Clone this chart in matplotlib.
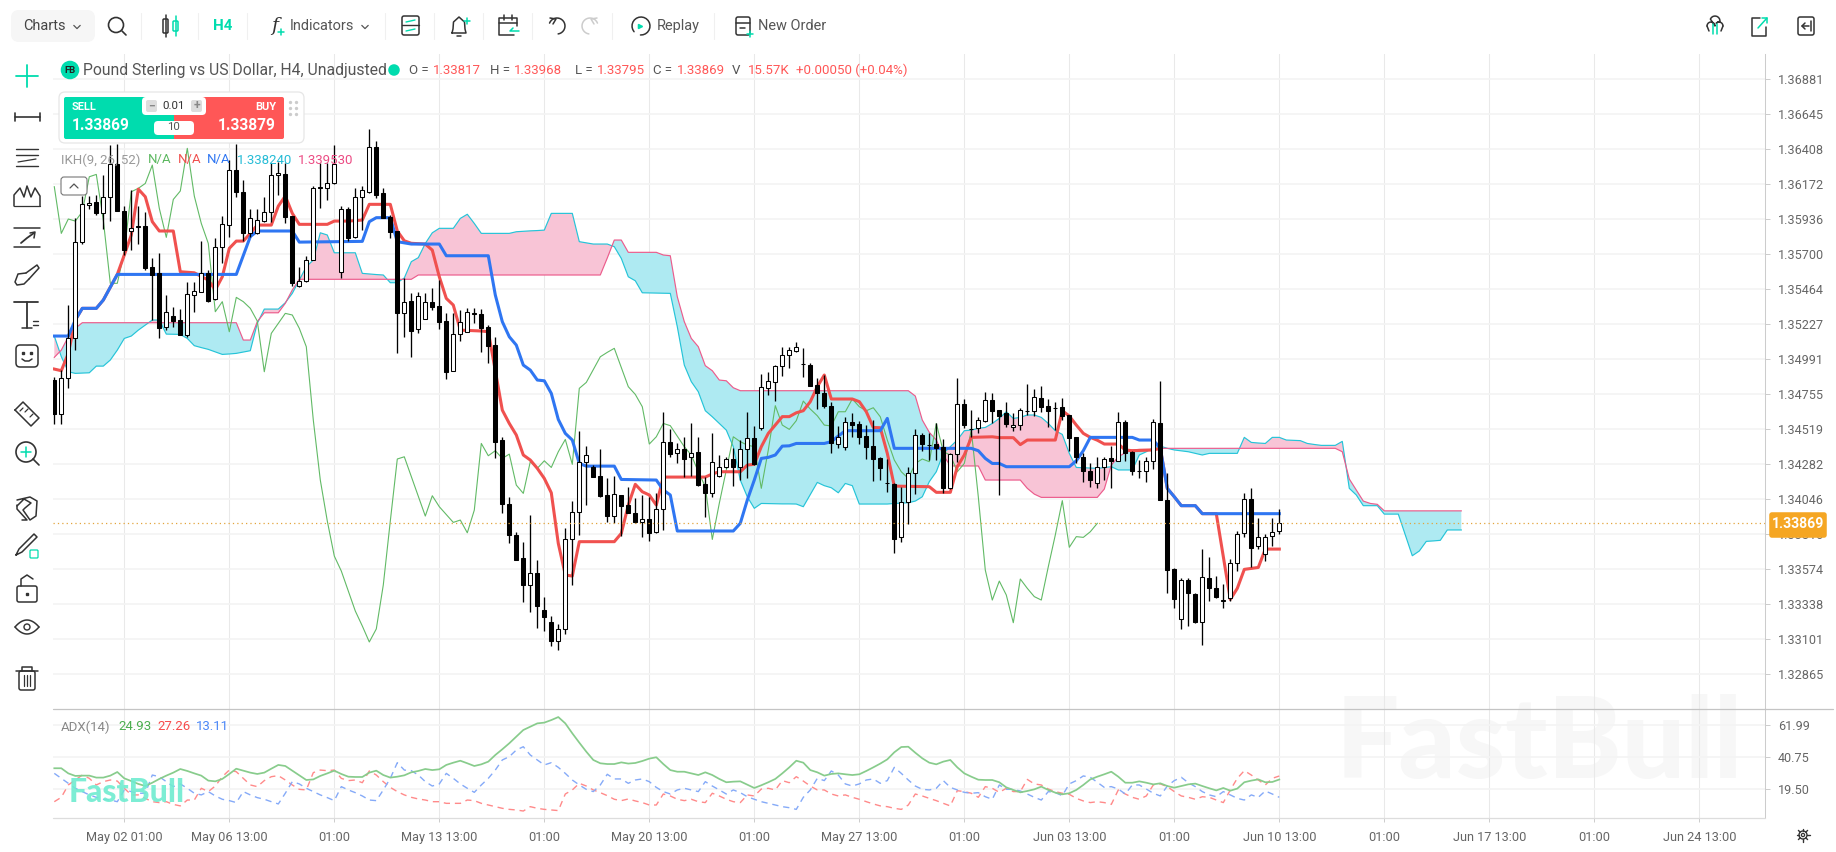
import numpy as np
from matplotlib import pyplot as plt
from matplotlib.patches import Circle, FancyBboxPatch, Rectangle

plt.rcParams['font.family'] = ['Roboto', 'DejaVu Sans']

# quotes are kept in points (1e-5)
opens = [134836,134604,134847,135117,135770,136020,136035,135965,136073,136292,
    135977,135844,135871,135875,135599,135556,135191,135268,135241,135140,
    135412,135432,135556,135380,135736,135882,136253,136105,135826,135830,
    135911,135968,136217,136224,135943,135473,135502,135646,136133,136130,
    136163,135567,135988,135799,136069,136107,136409,136096,135934,135842,
    135290,135369,135178,135250,135360,135335,135234,134899,135144,135158,
    135284,135279,135191,135072,134431,133999,133790,133634,133454,133531,
    133284,133203,133076,133153,133761,133947,134285,134251,134188,134060,
    133920,134060,133992,133936,133880,133898,133812,133963,134420,134341,
    134368,134314,134348,134132,134075,134188,134246,134300,134251,134368,
    134442,134510,134780,134825,134933,135002,135034,134943,134937,134802,
    134746,134661,134402,134386,134552,134537,134458,134390,134307,134139,
    134134,133774,134010,134210,134465,134400,134404,134381,134109,134334,
    134672,134508,134510,134561,134699,134631,134611,134517,134534,134630,
    134629,134712,134660,134650,134651,134597,134449,134314,134222,134138,
    134246,134307,134291,134550,134350,134225,134224,134287,134543,134026,
    133558,133220,133486,133391,133205,133497,133430,133342,133362,133598,
    133801,134030,133713,133659,133781,133817]
closes = [134604,134847,135117,135770,136022,136033,135965,136073,136292,135979,
    135713,135860,135873,135592,135545,135189,135297,135236,135140,135414,
    135435,135556,135369,135736,135887,136253,136107,135830,135927,135916,
    135968,136220,136231,135938,135493,135502,135646,136130,136137,136163,
    136294,135988,135792,136069,136116,136406,136085,135932,135837,135290,
    135365,135169,135401,135360,135331,135230,134892,135144,135225,135293,
    135288,135189,135065,134420,133999,133792,133621,133454,133531,133310,
    133239,133076,133153,133761,133943,134280,134327,134183,134053,133920,
    134064,133988,133936,133880,133896,133805,133963,134415,134334,134368,
    134305,134341,134127,134075,134280,134246,134300,134251,134368,134442,
    134267,134787,134827,134930,135005,135036,135056,134942,134798,134746,
    134663,134408,134453,134550,134535,134453,134386,134305,134240,134138,
    133765,134010,134206,134462,134404,134399,134377,134109,134334,134672,
    134532,134506,134564,134699,134629,134593,134539,134530,134631,134629,
    134719,134654,134629,134649,134595,134447,134314,134224,134161,134246,
    134300,134291,134550,134345,134224,134223,134287,134550,134028,133556,
    133360,133484,133396,133205,133504,133430,133374,133353,133598,133794,
    134030,133704,133778,133778,133812,133869]
highs = [134859,134903,135342,135932,136078,136078,136085,136220,136422,136430,
    136010,136118,136010,135972,135657,135691,135410,135331,135313,135500,
    135500,135776,135578,135792,135945,136321,136429,136186,135988,135988,
    136073,136298,136310,136298,135943,135601,135673,136148,136298,136298,
    136422,136010,136001,136134,136148,136528,136449,136130,135950,135842,
    135527,135421,135432,135421,135455,135511,135286,135286,135308,135320,
    135320,135315,135207,135124,134453,134044,133812,133745,133925,133621,
    133374,133245,133187,133835,134022,134492,134390,134262,134368,134172,
    134188,134060,134116,134037,134060,134048,134071,134622,134503,134413,
    134449,134543,134453,134184,134481,134330,134314,134379,134431,134622,
    134528,134874,134892,134937,135061,135061,135090,135050,134948,134847,
    134870,134690,134528,134584,134611,134559,134532,134566,134318,134300,
    134139,134116,134247,134503,134476,134480,134543,134440,134341,134847,
    134705,134633,134588,134753,134746,134631,134690,134611,134645,134807,
    134773,134798,134708,134690,134712,134597,134449,134341,134278,134314,
    134314,134390,134618,134566,134359,134296,134314,134573,134827,134210,
    133565,133497,133497,133396,133693,133644,133515,133457,133625,133819,
    134071,134105,133902,133796,133902,133968]
lows = [134539,134537,134784,135039,135754,135988,135950,135857,135911,135979,
    135680,135713,135754,135578,135241,135117,135173,135196,135140,135128,
    135297,135432,135365,135376,135624,135804,136069,135776,135799,135821,
    135905,135905,136085,135898,135473,135466,135495,135646,135995,136051,
    136159,135522,135776,135792,135848,136096,136062,135927,135792,135016,
    135128,134993,135151,135250,135308,135178,134840,134899,135101,135158,
    135218,135027,134948,134312,133940,133738,133621,133340,133272,133160,
    133144,133040,133013,133122,133454,133790,133992,134183,134048,133880,
    133873,133783,133936,133873,133779,133749,133801,133823,134318,134278,
    134183,134188,134120,133913,134048,134183,134240,134123,134161,134172,
    134262,134498,134735,134696,134863,134915,135027,134858,134795,134640,
    134645,134341,134379,134364,134453,134404,134300,134156,134161,134082,
    133670,133745,133862,134066,134357,134296,134296,134075,134098,134285,
    134510,134453,134480,134550,134543,134060,134516,134494,134498,134600,
    134593,134622,134521,134498,134566,134359,134273,134150,134111,134109,
    134161,134109,134291,134291,134195,134172,134150,134233,134028,133401,
    133295,133155,133176,133193,133050,133346,133362,133299,133346,133549,
    133778,133576,133695,133616,133715,133795]

# ichimoku lines as (bar, points) vertices
tenkan = [(0,134910),(1,134899),(2,135016),(3,135241),(4,135320),(6,135320),(7,135376),(9,135549),
    (10,135680),(11,135815),(12,136125),(13,136073),(14,135905),(15,135842),(17,135842),(18,135567),
    (20,135560),(22,135511),(23,135444),(24,135533),(25,135725),(26,135774),(27,135774),(28,135826),
    (29,135882),(31,135882),(32,136010),(33,136078),(34,135961),(35,135887),(39,135887),(40,135909),
    (42,135909),(44,135916),(45,136022),(48,136022),(49,135842),(50,135776),(51,135759),(53,135754),
    (54,135713),(55,135533),(56,135387),(57,135342),(58,135173),(61,135167),(62,135162),(63,134900),
    (64,134633),(65,134543),(66,134465),(67,134330),(68,134296),(69,134240),(70,134172),(71,134075),
    (72,133733),(73,133520),(74,133513),(75,133745),(80,133745),(81,133801),(82,133992),(83,134132),
    (84,134082),(85,134060),(86,133992),(87,134181),(93,134181),(94,134202),(95,134217),(98,134217),
    (99,134262),(100,134267),(101,134386),(102,134476),(103,134532),(104,134589),(105,134589),(106,134615),
    (107,134629),(108,134690),(109,134791),(110,134870),(111,134708),(114,134708),(115,134690),(116,134622),
    (117,134516),(118,134514),(119,134341),(120,134120),(125,134116),(126,134078),(128,134078),(129,134251),
    (130,134330),(131,134449),(134,134453),(135,134447),(137,134447),(138,134400),(139,134431),(143,134431),
    (144,134629),(145,134593),(146,134532),(147,134476),(148,134449),(149,134430),(150,134404),(152,134404),
    (153,134364),(154,134359),(157,134364),(158,134375),(159,134105),(160,134048),(161,133988),(163,133988),
    (164,133934),(166,133934),(167,133644),(168,133355),(169,133430),(170,133558),(172,133571),(173,133695),
    (175,133695)]
kijun = [(0,135133),(2,135133),(3,135241),(4,135320),(6,135320),(7,135376),(9,135549),(26,135549),
    (28,135804),(29,135842),(34,135842),(35,135767),(44,135772),(45,135905),(46,135932),(48,135932),
    (49,135770),(51,135754),(55,135754),(56,135675),(62,135675),(63,135410),(64,135230),(65,135128),
    (66,135072),(67,134937),(68,134903),(69,134836),(70,134831),(71,134746),(72,134570),(73,134476),
    (74,134431),(75,134273),(76,134255),(80,134255),(81,134165),(86,134161),(87,134094),(88,134060),
    (89,133817),(97,133817),(98,133869),(99,134026),(100,134161),(101,134307),(102,134314),(103,134330),
    (104,134390),(105,134392),(106,134408),(110,134408),(111,134420),(112,134458),(113,134494),(118,134494),
    (119,134577),(120,134375),(131,134375),(132,134359),(133,134307),(134,134273),(135,134273),(136,134251),
    (145,134251),(146,134291),(147,134359),(148,134449),(154,134449),(155,134431),(157,134431),(158,134375),
    (159,134105),(160,134048),(161,133988),(163,133988),(164,133934),(175,133934)]
chikou = [(0,136141),(1,135826),(2,135923),(3,135909),(4,135972),(5,136208),(6,136224),(7,135916),
    (8,135489),(9,135489),(10,135702),(11,136107),(12,136130),(13,136163),(14,136287),(15,135995),
    (16,135799),(17,136055),(18,136112),(19,136400),(20,136078),(21,135893),(22,135758),(23,135297),
    (24,135365),(25,135162),(26,135394),(27,135365),(28,135320),(29,135234),(30,134892),(31,135151),
    (33,135286),(34,135275),(35,135185),(36,135061),(37,134566),(38,134161),(39,133884),(40,133648),
    (41,133547),(42,133412),(43,133277),(44,133176),(45,133068),(46,133156),(47,133453),(48,133884),
    (49,134303),(50,134318),(53,133918),(54,134055),(55,133981),(57,133875),(58,133891),(59,133805),
    (60,133958),(61,134408),(62,134325),(63,134359),(64,134307),(65,134336),(66,134127),(67,134071),
    (68,134285),(69,134240),(70,134291),(71,134246),(72,134352),(73,134435),(74,134267),(75,134780),
    (76,134820),(78,134993),(79,135023),(80,135050),(82,134791),(83,134739),(84,134656),(85,134404),
    (86,134453),(87,134543),(88,134528),(90,134386),(91,134330),(92,134217),(93,134116),(94,133760),
    (95,134004),(97,134453),(98,134420),(99,134397),(100,134386),(101,134105),(102,134364),(103,134663),
    (104,134532),(105,134503),(106,134562),(107,134694),(108,134640),(109,134595),(110,134532),(111,134526),
    (112,134622),(113,134622),(114,134708),(115,134656),(116,134629),(117,134649),(118,134588),(119,134431),
    (120,134296),(121,134217),(122,134172),(123,134273),(124,134303),(125,134285),(126,134543),(127,134352),
    (128,134330),(129,134217),(130,134273),(131,134498),(132,134048),(133,133553),(134,133351),(135,133479),
    (136,133385),(137,133198),(138,133493),(139,133430),(140,133374),(141,133351),(142,133576),(143,133790),
    (144,134022),(145,133707),(146,133779),(147,133774),(148,133812),(149,133869)]

# cloud spans, one value per bar, running 26 bars past the last candle
span_a = [135133,134994,134892,134881,134883,134885,134930,134930,134971,135038,
    135117,135133,135173,135207,135241,135241,135146,135145,135144,135117,
    135068,135055,135043,135026,135009,135012,135016,135025,135034,135219,
    135315,135315,135315,135358,135421,135511,135601,135646,135830,135815,
    135695,135695,135695,135695,135556,135552,135548,135545,135493,135493,
    135525,135635,135662,135758,135830,135860,135860,135860,135927,135955,
    135893,135826,135826,135826,135826,135826,135837,135840,135843,135845,
    135848,135961,135961,135961,135961,135770,135762,135754,135754,135754,
    135736,135657,135533,135506,135425,135424,135423,135422,135421,135196,
    134937,134825,134757,134629,134588,134543,134498,134386,134161,134048,
    133970,134003,134002,134001,134000,134000,133999,133981,134063,134145,
    134123,134109,134075,134138,134123,133999,133999,133999,133999,133999,
    134003,134005,134008,134019,134048,134150,134217,134341,134386,134431,
    134494,134498,134510,134516,134543,134577,134622,134577,134584,134600,
    134600,134584,134543,134494,134469,134341,134246,134244,134242,134240,
    134245,134251,134229,134229,134229,134330,134352,134379,134390,134375,
    134364,134358,134352,134341,134330,134341,134341,134341,134341,134341,
    134449,134415,134411,134408,134449,134449,134431,134429,134427,134408,
    134401,134395,134395,134395,134422,134105,134060,133988,133988,133988,
    133931,133931,133931,133790,133650,133682,133747,133750,133754,133824,
    133824,133824]
span_b = ([134989,135038,135128,135185] + [135223]*23 + [135106,135106,135230,135290,135290,135290,135354,135444]
    + [135516]*17 + [135545]*27 + [135660,135781,135781] + [135698]*5
    + [135680,135675,135398,135230,135117,135061,134933,134899,134836,134831,134784]
    + [134764]*25 + [134728,134566,134483,134431,134330] + [134256]*5 + [134161]*6 + [134105,134066]
    + [134044]*9 + [134100,134262,134318,134345,134364] + [134368]*3 + [134375]*26
    + [134352,134168,134093,134019,134003,133997] + [133953]*12)

# ADX(14) pane
adx = [32.4,32.4,29.0,27.3,27.5,27.5,26.2,26.2,27.5,29.9,
    25.7,23.9,22.0,20.6,22.8,25.3,27.5,29.5,31.9,30.6,
    29.0,27.5,24.2,23.7,25.3,28.6,32.1,30.8,29.5,28.6,
    29.5,32.1,34.6,33.9,30.8,27.7,24.6,25.0,27.3,29.0,
    30.8,28.6,26.8,26.6,26.6,29.5,30.8,27.9,26.2,26.8,
    27.7,29.7,30.6,31.9,31.2,31.7,34.6,36.1,37.4,35.7,
    33.9,35.0,36.8,41.2,45.0,49.0,53.4,57.8,60.0,62.2,
    62.7,64.4,66.4,62.2,55.6,49.4,43.4,37.9,35.7,35.2,
    35.2,36.3,35.5,35.9,37.2,38.8,39.7,35.2,31.2,30.1,
    30.1,29.0,27.9,29.7,27.9,25.3,23.1,23.5,23.7,21.5,
    19.3,21.1,23.1,25.3,29.0,33.0,37.4,36.1,31.2,29.7,
    27.5,28.6,29.0,28.4,27.9,28.4,30.6,33.0,35.5,38.3,
    43.0,46.5,46.7,42.7,39.0,36.1,35.0,36.8,37.9,33.0,
    29.0,26.8,24.8,24.6,24.6,23.1,19.7,18.0,16.4,17.3,
    18.4,20.2,18.0,16.2,15.1,15.8,18.0,21.3,25.0,26.8,
    28.4,30.1,26.8,22.8,22.8,23.7,22.8,21.7,22.4,20.6,
    19.5,20.6,21.7,22.2,20.6,19.1,17.7,19.3,17.5,18.9,
    23.1,24.2,25.0,23.1,23.3,24.93]
di_red = [10.2,13.1,21.3,24.6,27.9,25.7,21.3,23.5,24.6,23.9,
    19.1,14.7,14.7,12.4,10.2,9.6,10.2,8.4,7.4,11.3,
    11.3,19.1,16.9,20.6,26.8,31.2,30.1,25.7,21.3,20.2,
    24.2,26.8,27.5,24.6,21.3,18.4,18.0,29.5,31.2,30.8,
    31.2,25.7,24.2,24.6,22.8,30.6,27.9,23.5,19.7,16.9,
    14.7,13.1,12.0,11.3,10.2,10.2,9.1,9.1,9.1,11.3,
    10.9,9.1,8.0,6.9,5.8,5.1,4.7,4.0,6.9,5.8,
    5.1,4.7,4.3,15.3,18.0,22.4,20.6,18.0,16.2,14.2,
    11.8,10.9,12.0,10.7,9.6,8.0,8.0,15.3,14.0,11.8,
    10.9,11.8,10.2,9.6,15.8,14.0,11.8,10.2,9.6,14.7,
    14.0,18.6,19.1,18.0,24.2,22.8,26.8,23.9,20.6,18.0,
    18.0,15.3,14.0,14.7,13.1,11.8,10.2,8.7,7.4,6.9,
    5.8,5.1,8.0,15.3,14.0,12.4,10.9,9.1,7.4,17.5,
    16.9,15.8,13.1,20.2,19.1,16.4,19.1,16.9,16.9,25.0,
    22.0,21.3,18.6,16.9,15.8,15.1,12.4,10.7,9.6,10.2,
    9.6,8.4,18.0,15.3,13.1,11.8,14.0,21.3,22.0,20.2,
    16.9,14.0,13.1,11.8,13.5,13.1,11.3,9.6,18.0,25.7,
    30.8,27.9,24.6,21.3,25.7,27.26]
di_blue = [29.0,25.7,22.4,19.1,16.9,14.7,13.1,11.8,11.3,10.2,
    18.0,16.9,15.8,15.8,27.9,26.8,23.5,20.2,22.0,19.1,
    15.8,14.7,16.9,14.0,11.8,10.9,9.6,16.9,14.7,12.9,
    11.8,10.2,8.7,15.8,23.5,22.0,19.1,16.9,14.7,12.9,
    10.9,20.2,18.0,16.2,14.0,11.3,10.9,18.0,25.7,36.1,
    31.2,30.8,27.9,23.5,20.6,22.0,29.0,25.7,22.0,19.1,
    16.4,21.3,25.7,31.2,37.9,40.1,44.5,46.7,41.2,37.9,
    34.6,36.1,33.0,29.0,24.6,21.3,18.4,16.9,21.3,28.4,
    25.3,25.3,22.4,24.6,25.3,23.5,19.7,16.9,15.3,18.0,
    19.1,18.0,16.9,23.5,20.6,18.0,15.3,18.0,16.2,13.5,
    11.8,10.2,9.1,8.0,6.9,6.2,5.1,13.1,18.0,25.7,
    24.2,30.6,27.9,22.0,20.6,22.0,24.6,25.3,22.4,24.2,
    33.0,29.0,24.6,20.6,18.4,18.0,19.1,24.2,19.7,18.0,
    16.4,15.8,16.2,13.5,11.8,21.3,18.4,18.4,17.3,15.3,
    13.1,11.3,16.9,16.2,14.2,22.0,24.2,27.3,26.4,23.1,
    19.7,20.2,18.6,15.3,21.3,21.3,18.6,15.8,14.0,20.6,
    24.2,26.4,22.8,20.2,16.9,14.7,13.5,16.9,14.7,12.4,
    11.3,14.7,13.1,17.3,15.3,13.11]

price_labels = ['1.36881','1.36645','1.36408','1.36172','1.35936','1.35700','1.35464','1.35227','1.34991',
    '1.34755','1.34519','1.34282','1.34046','1.33810','1.33574','1.33338','1.33101','1.32865']
adx_labels = ['61.99','40.75','19.50']
date_bars = list(range(10, 236, 15))
date_labels = ['May 02 01:00','May 06 13:00','01:00','May 13 13:00','01:00','May 20 13:00','01:00','May 27 13:00',
    '01:00','Jun 03 13:00','01:00','Jun 10 13:00','01:00','Jun 17 13:00','01:00','Jun 24 13:00']

W, H = 1836, 852
RED, GREEN_UI, GREY = '#ff5757', '#00dcae', '#555555'
BAR_STEP = 7.0          # pixels per bar
FIRST_BAR_X = 54.3
PLOT_L, PLOT_R = 53, 1765
MAIN_T, MAIN_B, ADX_B = 54, 709, 818
PX_POINTS = 6.75        # points per pixel in the price pane
GRID_SHIFT = 13         # the price grid sits a touch under its quoted level
ADX_GRID_SHIFT = 0.6


def px_axes(l, t, r, b, **kw):
    return fig.add_axes([l / W, 1 - b / H, (r - l) / W, (b - t) / H], **kw)


def pts(values):
    return np.array(values, dtype=float) / 1e5


def fs(px):
    return px * 0.72


fig = plt.figure(figsize=(W / 100, H / 100), dpi=100, facecolor='white')

# big pale watermark behind both panes
fig.text(1336 / W, 1 - 778 / H, 'FastBull', fontsize=fs(112), family='Lato', weight='black',
         color='#f7f7f7', zorder=-5, va='baseline', ha='left')

ax = px_axes(PLOT_L, MAIN_T, PLOT_R, MAIN_B)
ax2 = px_axes(PLOT_L, MAIN_B, PLOT_R, ADX_B)
xlim = ((PLOT_L - FIRST_BAR_X) / BAR_STEP, (PLOT_R - FIRST_BAR_X) / BAR_STEP)
last_close = closes[-1]

for a in (ax, ax2):
    a.patch.set_alpha(0)
    a.set_xlim(xlim)
    a.yaxis.tick_right()
    a.set_axisbelow(True)
    a.set_xticks(date_bars)
    a.grid(axis='x', color='#e9e9e9', lw=0.75)
    a.grid(axis='y', color='#f4f4f4', lw=1.3)
    a.tick_params(axis='y', length=3.6, width=0.7, color='#cccccc', labelcolor='#666666',
                  labelsize=fs(12.6), pad=5.5)
    a.tick_params(axis='x', length=3, width=0.7, color='#cccccc', labelcolor='#666666',
                  labelsize=fs(12.8), pad=6.5)
    for side in ('top', 'left', 'bottom'):
        a.spines[side].set_visible(False)
    a.spines['right'].set_color('#cccccc')
    a.spines['right'].set_linewidth(0.75)
ax.tick_params(axis='x', length=0, labelbottom=False)

ax.set_ylim((last_close + (523.3 - MAIN_B) * PX_POINTS) / 1e5, (last_close + (523.3 - MAIN_T) * PX_POINTS) / 1e5)
ax.set_yticks([float(p) - GRID_SHIFT / 1e5 for p in price_labels])
ax.set_yticklabels(price_labels)

# cloud
cloud_x = np.arange(len(span_a))
a_line, b_line = pts(span_a), pts(span_b)
ax.fill_between(cloud_x, a_line, b_line, where=a_line >= b_line, interpolate=True,
                color='#f8c4d6', lw=0, zorder=2)
ax.fill_between(cloud_x, a_line, b_line, where=a_line < b_line, interpolate=True,
                color='#aeeaf2', lw=0, zorder=2)
ax.plot(cloud_x, a_line, color='#25c4d8', lw=0.85, zorder=3)
ax.plot(cloud_x, b_line, color='#ec5c8c', lw=0.85, zorder=3)

for line, colour, width in ((chikou, '#62ba66', 0.8), (tenkan, '#f0514f', 2.2), (kijun, '#2f76f2', 2.2)):
    bars, vals = zip(*line)
    ax.plot(bars, pts(vals), color=colour, lw=width, solid_joinstyle='round', zorder=4)

# candles, hollow when the close is above the open
bar_x = np.arange(len(closes))
o, c, hi, lo = pts(opens), pts(closes), pts(highs), pts(lows)
ax.vlines(bar_x, lo, hi, color='black', lw=0.95, zorder=5)
ax.bar(bar_x, np.abs(c - o), bottom=np.minimum(o, c), width=4.3 / BAR_STEP,
       color=['white' if u else 'black' for u in c >= o], edgecolor='black', lw=0.75, zorder=6)

ax.axhline(last_close / 1e5, color='#e3a43c', lw=0.9, ls=(0, (1, 2.5)), zorder=7)

# ADX pane
ax2.set_ylim(71.08 - 0.664 * (ADX_B - 710), 71.08 - 0.664 * (MAIN_B - 710))
ax2.set_yticks([float(v) - ADX_GRID_SHIFT for v in adx_labels])
ax2.set_yticklabels(adx_labels)
ax2.set_xticklabels(date_labels)
x_adx = np.arange(len(adx))
ax2.plot(x_adx, adx, color='#88cc8c', lw=1.25, zorder=4)
ax2.plot(x_adx, di_red, color='#ff8a8a', lw=1.0, ls=(0, (4.5, 3.5)), zorder=3)
ax2.plot(x_adx, di_blue, color='#85aaf8', lw=1.0, ls=(0, (4.5, 3.5)), zorder=3)

# everything around the panes is laid out in plain pixels
ui = fig.add_axes([0, 0, 1, 1], zorder=10)
ui.set_xlim(0, W)
ui.set_ylim(H, 0)
ui.axis('off')
ui.patch.set_alpha(0)


def txt(x, y, s, color=GREY, px=14, ha='left', weight='normal', **kw):
    ui.text(x, y, s, color=color, fontsize=fs(px), ha=ha, va='center', weight=weight, **kw)


def stroke(xs, ys, color='#333333', lw=1.1):
    ui.plot(xs, ys, color=color, lw=lw, solid_capstyle='round', solid_joinstyle='round')


def box(x0, y0, x1, y1, fc='none', ec='#333333', r=2, lw=1.1, z=2):
    ui.add_patch(FancyBboxPatch((x0 + r, y0 + r), x1 - x0 - 2 * r, y1 - y0 - 2 * r,
                                boxstyle=f'round,pad={r}', fc=fc, ec=ec, lw=lw, zorder=z))


def circle(x, y, r, fc='none', ec='#333333', lw=1.1, z=2):
    ui.add_patch(Circle((x, y), r, fc=fc, ec=ec, lw=lw, zorder=z))


def chevron(x, y, color='#555555', size=3.5, up=False):
    d = -size if up else size
    stroke([x - size, x, x + size], [y - d / 2, y + d / 2, y - d / 2], color, 0.9)


# pane frame
stroke([PLOT_L, 1833], [MAIN_B, MAIN_B], '#c4c4c4', 0.9)
stroke([PLOT_L, PLOT_R], [ADX_B, ADX_B], '#dddddd', 0.9)

# small logo over the ADX pane
ui.text(69, 802, 'FastBull', color='#6fecd0', fontsize=fs(32), family='Lato', weight='black', alpha=0.9, va='baseline')

# price tag
box(1770, 513, 1826, 537, fc='#f5a623', ec='#f5a623', r=2, z=4)
ui.text(1798, 524, f'{last_close / 1e5:.5f}', color='white', fontsize=fs(14), weight='bold',
        ha='center', va='center', zorder=5)

# header
circle(70, 70, 8.5, fc='#00dcae', ec='#00dcae')
ui.text(70, 70.5, 'FB', color='#222222', fontsize=fs(9.5), weight='bold', ha='center', va='center', zorder=4)
txt(83, 70, 'Pound Sterling vs US Dollar, H4, Unadjusted', '#555555', 15.7)
circle(394, 70, 5, fc='#00dcae', ec='#00dcae')
for x, s, col in ((409, 'O =', GREY), (433, '1.33817', RED), (490, 'H =', GREY), (514, '1.33968', RED),
                  (575, 'L =', GREY), (597, '1.33795', RED), (653, 'C =', GREY), (677, '1.33869', RED),
                  (732, 'V', GREY), (748, '15.57K', RED), (796, '+0.00050 (+0.04%)', RED)):
    txt(x, 70, s, col, 13.2)

txt(61, 160, 'IKH(9, 26, 52)', '#999999', 13.3)
for x, s, col in ((148, 'N/A', '#5cb860'), (178, 'N/A', '#f0514f'), (207, 'N/A', '#2f76f2'),
                  (237, '1.338240', '#25bcd6'), (298, '1.339530', '#ec4c84')):
    txt(x, 160, s, col, 13.3)
txt(61, 727, 'ADX(14)', '#888888', 13.3)
for x, s, col in ((118, '24.93', '#4cae50'), (157, '27.26', '#f74c4c'), (196, '13.11', '#4a86f7')):
    txt(x, 727, s, col, 13.3)

# collapse button
box(61, 177, 87, 195, fc='white', ec='#777777', r=3, lw=0.8)
chevron(74, 186, '#555555', 4, up=True)

# order widget
box(59, 92, 304, 143, fc='white', ec='#e6e6e6', r=6, lw=0.9, z=3)
ui.add_patch(FancyBboxPatch((66, 99), 106, 38, boxstyle='round,pad=2', fc=GREEN_UI, ec='none', zorder=4))
ui.add_patch(FancyBboxPatch((176, 99), 106, 38, boxstyle='round,pad=2', fc=RED, ec='none', zorder=4))
ui.add_patch(Rectangle((150, 97), 25, 42, fc=GREEN_UI, ec='none', zorder=4))
ui.add_patch(Rectangle((174, 97), 25, 42, fc=RED, ec='none', zorder=4))
box(142, 97, 206, 115, fc='white', ec='none', r=4, z=5)
box(154, 121, 194, 135, fc='white', ec='none', r=4, z=5)
box(146, 100, 157, 112, fc='#dddddd', ec='none', r=2, z=6)
box(191, 100, 202, 112, fc='#dddddd', ec='none', r=2, z=6)
for x, s, ha, px, yy, col, w in ((72, 'SELL', 'left', 11, 107, 'white', 'bold'), (276, 'BUY', 'right', 11, 107, 'white', 'bold'),
                                 (72, '1.33869', 'left', 15.5, 126, 'white', 'bold'), (276, '1.33879', 'right', 15.5, 126, 'white', 'bold'),
                                 (174, '0.01', 'center', 11.5, 106, '#333333', 'normal'), (174, '10', 'center', 11.5, 127, '#555555', 'normal'),
                                 (151.5, '\u2212', 'center', 12, 106, '#888888', 'bold'), (196.5, '+', 'center', 12, 106, '#888888', 'bold')):
    ui.text(x, yy, s, color=col, fontsize=fs(px), ha=ha, va='center', weight=w, zorder=7)
for dx in (290, 296):
    for dy in (102, 108, 114):
        ui.plot(dx, dy, 'o', ms=1.4, color='#cccccc', zorder=7)
chevron(293, 130, '#bbbbbb', 4.5)

# top toolbar
box(11, 10, 95, 42, fc='#f6f6f6', ec='none', r=8, z=1)
txt(23, 26, 'Charts', '#444444', 14.5)
chevron(77, 27, '#555555', 3.2)
for sx in (141, 198, 247, 385, 434, 483, 532, 612, 714):
    stroke([sx, sx], [13, 39], '#f0f0f0', 0.8)
circle(116, 25, 7.5, ec='#333333', lw=1.2)
stroke([122, 126], [31, 35], '#333333', 1.2)
# candle pair
box(163, 19, 168, 33, ec='#333333', r=1, lw=1.1)
stroke([165.5, 165.5], [15, 37], '#333333', 1.1)
box(173, 21, 178, 31, ec=GREEN_UI, r=1, lw=1.1)
stroke([175.5, 175.5], [16, 36], GREEN_UI, 1.1)
ui.text(223, 26, 'H4', color=GREEN_UI, fontsize=fs(15), weight='bold', ha='center', va='center')
ui.text(275, 26, 'f', color='#333333', fontsize=fs(19), style='italic', ha='center', va='center', family='DejaVu Serif')
stroke([278, 284], [32, 32], GREEN_UI, 1.1)
stroke([281, 281], [29, 35], GREEN_UI, 1.1)
txt(290, 26, 'Indicators', '#555555', 14.5)
chevron(365, 27, '#555555', 3.2)
box(402, 16, 419, 35, ec='#333333', r=2)
stroke([402, 419], [25, 25], '#333333', 1)
stroke([406, 415], [22, 20], GREEN_UI, 1)
stroke([406, 415], [31, 29], GREEN_UI, 1)
# bell
stroke([452, 453, 453.5, 459, 464.5, 465, 466, 452], [33, 29, 22, 17, 22, 29, 33, 33], '#333333')
stroke([457, 461], [36, 36], '#333333')
stroke([464, 470], [21, 21], GREEN_UI)
stroke([467, 467], [18, 24], GREEN_UI)
# calendar
stroke([514, 499, 499, 517, 517], [35, 35, 18, 18, 26], '#333333')
stroke([499, 517], [23, 23], '#333333')
stroke([504, 504], [15, 20], '#333333')
stroke([512, 512], [15, 20], '#333333')
stroke([519, 510, 513], [31, 31, 28], GREEN_UI)
# undo and redo
t = np.linspace(-2.2, 2.0, 20)
stroke(557 + 8 * np.sin(t + 1.0), 26 - 8 * np.cos(t + 1.0), '#333333')
stroke([550, 556, 553], [18, 19, 24], '#333333')
stroke(590 - 8 * np.sin(t + 1.0), 26 - 8 * np.cos(t + 1.0), '#cccccc')
stroke([597, 591, 594], [18, 19, 24], '#cccccc')
# replay
stroke(641 + 9 * np.sin(t * 1.3 + 0.6), 26 - 9 * np.cos(t * 1.3 + 0.6), '#333333')
ui.plot([640], [26], '>', ms=3, color=GREEN_UI)
txt(657, 26, 'Replay', '#555555', 14.5)
# new order
box(736, 17, 750, 35, ec='#333333', r=2)
stroke([736, 750], [23, 23], '#333333')
stroke([740, 745], [28, 28], '#333333')
stroke([747, 753], [34, 34], GREEN_UI)
stroke([750, 750], [31, 37], GREEN_UI)
txt(758, 26, 'New Order', '#555555', 14.5)
# right hand icons
cloud_t = np.linspace(np.pi, 0, 9)
stroke(np.r_[1711 + 4 * np.cos(cloud_t), 1715 + 5 * np.cos(cloud_t)[1:], 1719 + 4 * np.cos(cloud_t)[2:]],
       np.r_[26 - 4 * np.sin(cloud_t), 21 - 5 * np.sin(cloud_t)[1:], 26 - 4 * np.sin(cloud_t)[2:]], '#333333')
stroke([1707, 1709], [26, 31], '#333333')
stroke([1723, 1721], [26, 31], '#333333')
stroke([1713, 1713], [24, 34], GREEN_UI)
stroke([1717, 1717], [24, 34], GREEN_UI)
stroke([1760, 1752, 1752, 1766, 1766], [18, 18, 36, 36, 27], '#333333')
stroke([1758, 1767], [28, 18], GREEN_UI)
stroke([1762, 1767, 1767], [18, 18, 23], GREEN_UI)
box(1798, 17, 1814, 35, ec='#333333', r=2)
stroke([1802, 1809], [26, 26], '#333333')
stroke([1805, 1802, 1805], [23, 26, 29], '#333333')
stroke([1811, 1811], [21, 31], '#333333')

# left drawing tools
stroke([16, 38], [76, 76], GREEN_UI, 1.3)
stroke([27, 27], [65, 87], GREEN_UI, 1.3)
stroke([15, 40], [117, 117], '#333333', 1.2)
stroke([15, 15], [113, 121], '#333333', 1.2)
stroke([40, 40], [113, 121], '#333333', 1.2)
for yy in (149, 155, 166):
    stroke([16, 38], [yy, yy], '#333333', 1.0)
stroke([18, 36], [162, 159], '#333333', 0.9)
stroke([14, 14, 20, 24, 27, 31, 35, 40, 40], [206, 195, 188, 197, 186, 197, 188, 196, 206], '#333333', 1.1)
stroke([14, 40], [206, 206], '#333333', 0.9)
stroke([14, 40], [228, 228], '#333333', 1.1)
stroke([14, 40], [247, 247], '#333333', 1.1)
stroke([21, 27, 34], [243, 238, 233], '#333333', 1.3)
stroke([30, 35, 34], [233, 232, 238], '#333333', 1.1)
# brush
stroke([26, 37, 39, 29], [273, 265, 268, 279], '#333333', 1.1)
stroke([26, 18, 15, 17, 24, 29], [273, 274, 282, 285, 284, 279], '#333333', 1.1)
stroke([14, 38], [302, 302], '#333333', 1.3)
stroke([27, 27], [302, 328], '#333333', 1.3)
stroke([22, 32], [328, 328], '#333333', 1.1)
for yy in (321, 325):
    stroke([33, 38], [yy, yy], '#333333', 1.0)
box(16, 345, 38, 367, ec='#333333', r=4)
ui.plot([23, 31], [353, 353], 's', ms=1.5, color='#333333')
stroke([22, 25, 29, 32], [359, 361, 361, 359], '#333333')
stroke([15, 23, 39, 31, 15], [410, 402, 418, 426, 410], '#333333', 1.1)
for xx, yy in ((20, 411), (25, 412), (30, 417)):
    stroke([xx, xx + 3], [yy, yy - 3], '#333333', 0.9)
circle(26, 452, 10, lw=1.2)
stroke([33, 39], [459, 465], '#333333', 1.2)
stroke([21, 31], [452, 452], GREEN_UI, 1.1)
stroke([26, 26], [447, 457], GREEN_UI, 1.1)
# magnet
stroke([17, 30, 37, 36, 30, 23, 25, 31, 24, 17], [500, 497, 501, 516, 520, 510, 508, 503, 499, 506], '#333333', 1.1)
stroke([17, 17, 27, 22], [505, 509, 520, 520], '#333333', 1.1)
# pen with a small lock
stroke([16, 19, 34, 37, 22, 16], [555, 549, 534, 537, 552, 555], '#333333', 1.1)
box(30, 550, 38, 558, ec=GREEN_UI, r=1, lw=0.9)
box(17, 586, 37, 602, ec='#333333', r=2)
stroke([21, 21, 27, 33], [586, 579, 575, 579], '#333333')
ui.plot([27], [594], 's', ms=1.5, color='#333333')
t2 = np.linspace(-1, 1, 15)
stroke(27 + 12 * t2, 627 - 7 * (1 - t2 ** 2), '#333333')
stroke(27 + 12 * t2, 627 + 7 * (1 - t2 ** 2), '#333333')
circle(27, 627, 3, lw=1)
stroke([16, 38], [671, 671], '#333333')
stroke([22, 22, 32, 32], [671, 667, 667, 671], '#333333')
box(19, 671, 35, 690, ec='#333333', r=2)
for xx in (24, 27, 30):
    stroke([xx, xx], [675, 686], '#333333', 0.9)

# settings gear
circle(1803, 835, 4, lw=1)
circle(1803, 835, 1.6, lw=0.9)
for ang in np.linspace(0, 2 * np.pi, 8, endpoint=False):
    stroke([1803 + 4 * np.cos(ang), 1803 + 6.5 * np.cos(ang)], [835 + 4 * np.sin(ang), 835 + 6.5 * np.sin(ang)], '#333333', 1)

fig.savefig('out.png', dpi=100)
